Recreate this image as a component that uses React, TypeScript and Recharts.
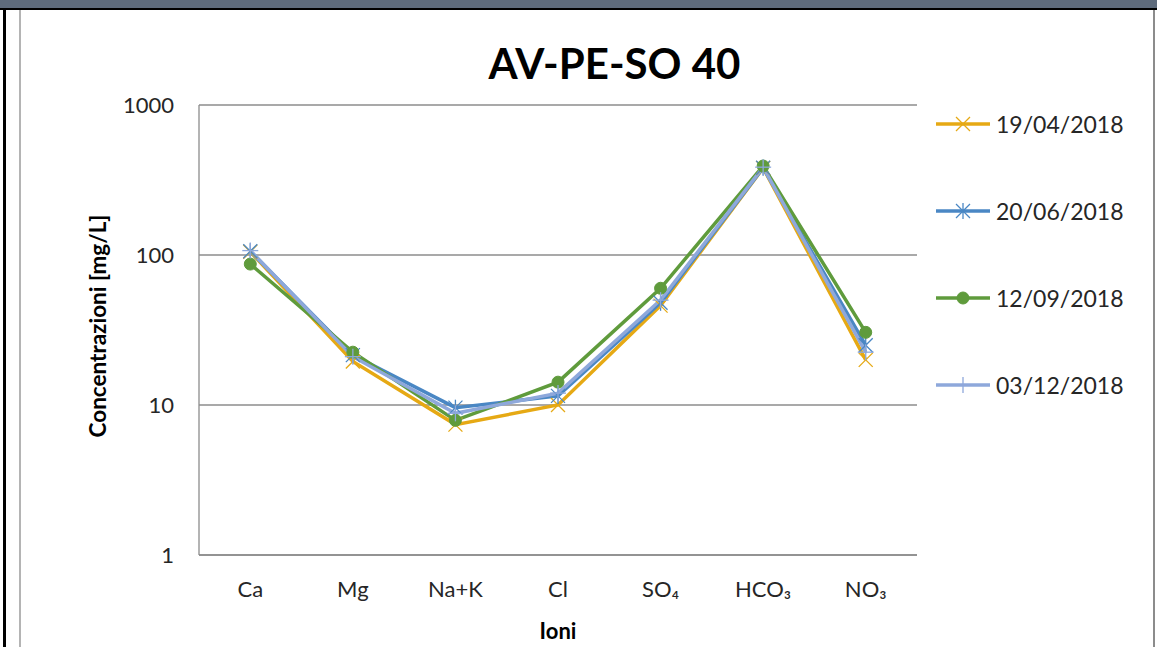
import React from "react";
import { LineChart, Line, XAxis, YAxis, CartesianGrid } from "recharts";

const ioni = ["Ca", "Mg", "Na+K", "Cl", "SO₄", "HCO₃", "NO₃"];

const apr2018 = [105, 19.5, 7.4, 10, 46, 380, 20];
const jun2018 = [106, 21.5, 9.6, 11.5, 48, 382, 25];
const sep2018 = [87, 22.5, 7.9, 14.2, 60, 392, 30.5];
const dec2018 = [107, 21, 8.8, 12, 50, 385, 22.5];

const yTicks = [1, 10, 100, 1000];

const serie = [
  { key: "apr", name: "19/04/2018", color: "#E6A914", marker: "x", values: apr2018 },
  { key: "jun", name: "20/06/2018", color: "#4A87C4", marker: "star", values: jun2018 },
  { key: "sep", name: "12/09/2018", color: "#5F9B3C", marker: "circle", values: sep2018 },
  { key: "dec", name: "03/12/2018", color: "#8EA8DB", marker: "plus", values: dec2018 },
];

const data = ioni.map((ione, i) => {
  const row: any = { ione };
  serie.forEach((s) => (row[s.key] = s.values[i]));
  return row;
});

const FONT = "Lato, 'Open Sans', sans-serif";

function Marker({ type, color, cx, cy }: { type: string; color: string; cx: number; cy: number }) {
  const s = 7;
  if (type === "circle") return <circle cx={cx} cy={cy} r={6} fill={color} stroke={color} />;
  if (type === "x")
    return (
      <g stroke={color} strokeWidth={1.3}>
        <line x1={cx - s} y1={cy - s} x2={cx + s} y2={cy + s} />
        <line x1={cx - s} y1={cy + s} x2={cx + s} y2={cy - s} />
      </g>
    );
  if (type === "star")
    return (
      <g stroke={color} strokeWidth={1.3}>
        <line x1={cx - s} y1={cy - s} x2={cx + s} y2={cy + s} />
        <line x1={cx - s} y1={cy + s} x2={cx + s} y2={cy - s} />
        <line x1={cx} y1={cy - s - 1} x2={cx} y2={cy + s + 1} />
      </g>
    );
  return (
    <g stroke={color} strokeWidth={1.3}>
      <line x1={cx} y1={cy - 8} x2={cx} y2={cy + 8} />
      <line x1={cx - 8} y1={cy} x2={cx + 8} y2={cy} />
    </g>
  );
}

function Legenda() {
  return (
    <div style={{ position: "absolute", left: 930, top: 104 }}>
      {serie.map((s, i) => (
        <div key={s.key} style={{ position: "absolute", top: i * 87, left: 0, display: "flex", alignItems: "center", height: 40, whiteSpace: "nowrap" }}>
          <svg width={64} height={40}>
            <line x1={6} y1={20} x2={60} y2={20} stroke={s.color} strokeWidth={3.5} />
            <Marker type={s.marker} color={s.color} cx={33} cy={20} />
          </svg>
          <span style={{ fontFamily: FONT, fontSize: 23, color: "#262626", marginLeft: 2 }}>{s.name}</span>
        </div>
      ))}
    </div>
  );
}

export default function App() {
  return (
    <div style={{ position: "absolute", left: 0, top: 0, width: 1157, height: 647, background: "#fff", overflow: "hidden" }}>
      <div style={{ position: "absolute", left: 0, top: 0, width: 1157, height: 8, background: "#5E6B7C" }} />
      <div style={{ position: "absolute", left: 0, top: 8, width: 1157, height: 2, background: "#000" }} />
      <div style={{ position: "absolute", left: 3, top: 8, width: 3, height: 639, background: "#000" }} />
      <div style={{ position: "absolute", left: 19, top: 10, width: 2, height: 637, background: "#b4b4b4" }} />
      <div style={{ position: "absolute", left: 1153, top: 10, width: 2, height: 637, background: "#8c8c8c" }} />

      <div style={{ position: "absolute", left: 0, width: 1157, top: 38, textAlign: "center", paddingLeft: 72, boxSizing: "border-box", fontFamily: FONT, fontWeight: 700, fontSize: 42, color: "#000" }}>
        AV-PE-SO 40
      </div>

      <LineChart
        width={1157}
        height={647}
        data={data}
        margin={{ top: 105, right: 240, bottom: 32, left: 19 }}
        style={{ position: "absolute", left: 0, top: 0 }}
      >
        <CartesianGrid vertical={false} stroke="#8c8c8c" strokeWidth={1.3} />
        <XAxis
          dataKey="ione"
          scale="band"
          height={60}
          tickLine={false}
          tickSize={0}
          tickMargin={26}
          axisLine={{ stroke: "#8c8c8c", strokeWidth: 1.3 }}
          tick={{ fontFamily: FONT, fontSize: 22, fill: "#262626" }}
          interval={0}
        />
        <YAxis
          scale="log"
          domain={[1, 1000]}
          ticks={yTicks}
          allowDataOverflow
          width={180}
          tickLine={false}
          tickSize={0}
          tickMargin={25}
          axisLine={{ stroke: "#8c8c8c", strokeWidth: 1.3 }}
          tick={{ fontFamily: FONT, fontSize: 22, fill: "#262626" }}
        />
        {serie.map((s) => (
          <Line
            key={s.key}
            dataKey={s.key}
            name={s.name}
            stroke={s.color}
            strokeWidth={3.5}
            isAnimationActive={false}
            dot={(p: any) => <Marker key={`${s.key}-${p.index}`} type={s.marker} color={s.color} cx={p.cx} cy={p.cy} />}
            activeDot={false}
          />
        ))}
      </LineChart>

      <div style={{ position: "absolute", left: 97, top: 326, transform: "translate(-50%, -50%) rotate(-90deg)", whiteSpace: "nowrap", fontFamily: FONT, fontWeight: 700, fontSize: 22.5, color: "#000" }}>
        Concentrazioni [mg/L]
      </div>
      <div style={{ position: "absolute", left: 558, top: 630, transform: "translate(-50%, -50%)", fontFamily: FONT, fontWeight: 700, fontSize: 22, color: "#000" }}>
        Ioni
      </div>

      <Legenda />
    </div>
  );
}
